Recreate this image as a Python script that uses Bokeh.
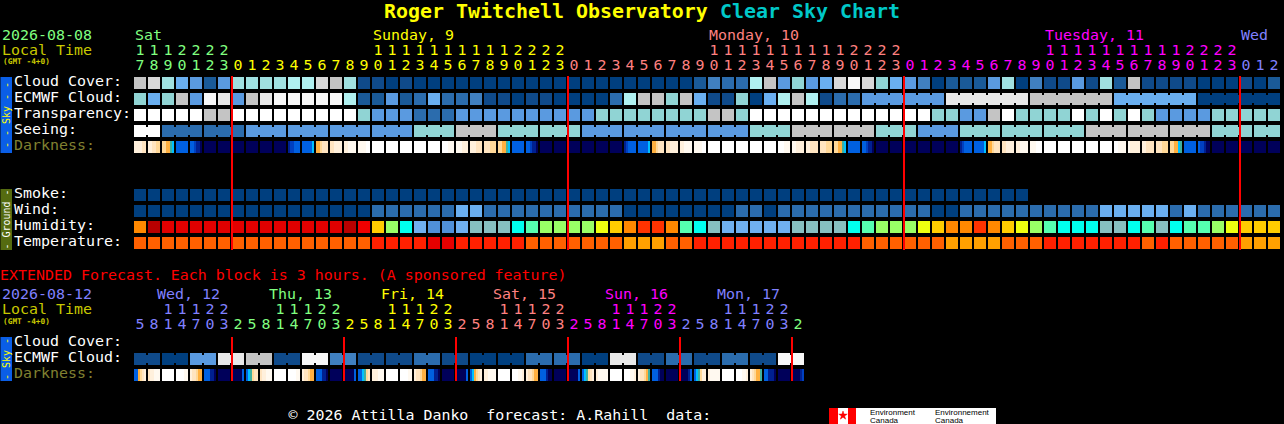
from math import pi
from bokeh.plotting import figure
from bokeh.models import Range1d, ColumnDataSource
from bokeh.core.properties import value
from bokeh.embed import file_html
from bokeh.resources import INLINE

# ---------- data ----------
hour_labels = [17,18,19,20,21,22,23,
  0,1,2,3,4,5,6,7,8,9,10,11,12,13,14,15,16,17,18,19,20,21,22,23,
  0,1,2,3,4,5,6,7,8,9,10,11,12,13,14,15,16,17,18,19,20,21,22,23,
  0,1,2,3,4,5,6,7,8,9,10,11,12,13,14,15,16,17,18,19,20,21,22,23,
  0,1,2]
day_colors = ["#80ff80","#ffff00","#ff8080","#ff00ff","#8080ff"]
day_names = ["Sat","Sunday, 9","Monday, 10","Tuesday, 11","Wed"]
day_blocks = [0,17,41,65,79]

cloud_colors = ["#003f7f","#0f4a8a","#1a5a98","#2b6cad","#4080c0","#5a9ae0","#6aaff0",
                "#90d4d4","#a0e0e0","#b0f0f0","#c4c4c4","#d8d8d8","#e8e8e8","#f8f8f8","#ffffff"]
cloud_cover = [10,11,8,6,5,2,5,8,8,8,8,9,9,11,10,8,1,1,0,1,0,
  0,0,0,0,0,0,0,0,0,0,0,0,0,0,0,0,0,0,0,
  2,4,3,3,9,10,5,7,5,6,11,13,
  11,7,6,5,4,0,2,2,2,5,8,0,4,1,1,5,1,8,2,10,1,1,1,1,0,0,0,1,0,2]
ecmwf_levels = [7,6,7,10,5,13,12,5,10,12,13,13,13,13,13,9,2,2,5,2,3,
  6,3,3,4,1,1,0,1,1,0,0,0,0,3,9,10,10,7,10,6,1,1,7,0,6,9,10,9,1,3,3,
  5,12,10,6,0]
ecmwf_spans = [1]*52 + [6]*5
transparency = [14,14,14,14,14,10,10,14,14,14,14,14,14,14,14,14,7,5,5,5,3,
  3,3,5,5,5,5,5,5,5,5,5,5,7,7,7,7,7,7,7,7,10,10,7,
  14,14,14,14,14,14,14,14,14,14,14,14,14,7,7,5,5,10,14,7,7,7,7,14,7,14,7,14,7,5,5,5,5,7,7,7,7,7]
seeing_levels = [14,3,3,5,5,5,5,7,10,7,7,5,5,5,5,7,10,10,7,5,7,7,7,10,10,10,7,7]
seeing_spans = [2]+[3]*26+[2]

dark_colors = {"w":"#ffffff","x":"#fff9f0","y":"#fff0dc","z":"#ffe4c0","p":"#ffd898","o":"#ffb040",
               "t":"#40b0a0","c":"#00c0ff","b":"#0060e0","m":"#0040c0","n":"#002090","d":"#00005a"}
darkness = ["yyyyzz","yyzzpp","ppootc","bbbbbb","bbmnnd","dddddd","dddddd","dddddd","dddddd","dddddd","dddddd",
  "nmmbbb","bbbbbc","oopzzz","zzyyyy","yyxxxx","xxxxww","wwwwww","wwwwww","wwwwww","wwwwww",
  "wwwwww","wwwxxx","xxxyyy","yyyzzz","zzzppp","ppootc","bbbbbb","bbmnnd",
  "dddddd","dddddd","dddddd","dddddd","dddddd","dddddd",
  "nmbbbb","bbbbbc","oopzzz","zzyyyy","yyxxxx","xxxxww",
  "wwwwww","wwwwww","wwwwww","wwwwww","wwwwww","wwwxxx","xxyyyy","yyzzzz","zzzppp","ppootc",
  "bbbbbb","bbmnnd","dddddd","dddddd","dddddd","dddddd","dddddd","dddddd",
  "nmbbbb","bbbbbc","oopzzz","zzyyyy","yyxxxx","xxxwww",
  "wwwwww","wwwwww","wwwwww","wwwwww","wwwwww","wwxxxx","xyyyyy","yyzzzz","zzzppp","ppooct",
  "bbbbbb","bmmndd","dddddd","dddddd","dddddd","dddddd","dddddd"]

smoke = [0]*64
wind = [0]*17 + [3,3,3,3,3,3,6,6,3,3,3,3,3,3,3,3,3,3] + [0]*8 + [3,3,0] + [3]*11 + [0,0] + [3]*10 + [6,6,6,6,6,3,6,3,3,3,3,3,3]

humidity_colors = ["#b80000","#e00000","#f00000","#ff3300","#ff8800","#ffcc00","#eeff10",
                   "#99ff66","#55ffb0","#00ffee","#86c0c0","#70b0f0","#5090d8"]
humidity = [4,0,1,1,1,1,1,1,1,1,1,1,1,1,1,0,2,5,7,9,11,
  12,12,11,10,10,10,9,8,7,7,7,7,6,5,4,3,3,4,8,9,10,11,11,11,11,11,10,10,10,10,9,
  8,7,7,7,6,5,4,4,3,4,5,6,7,8,9,9,9,10,10,9,8,10,9,8,8,7,6,5,5,5]
temp_colors = ["#e60000","#ff2000","#ff6000","#ffa000"]
temperature = [2]*17+[1]*4+[0,0]+[1]*5+[2]*7+[3]*3+[2,2]+[1]*12+[2]*6+[3]*4+[2]*3+[1]*7+[2,1]+[2]*5+[3]*3

ext_hours = [5,8,11,14,17,20,23,
  2,5,8,11,14,17,20,23, 2,5,8,11,14,17,20,23, 2,5,8,11,14,17,20,23,
  2,5,8,11,14,17,20,23, 2,5,8,11,14,17,20,23, 2]
ext_day_colors = ["#8080ff","#80ff80","#ffff00","#ff8080","#ff00ff","#8080ff","#80ff80"]
ext_day_names = ["Wed, 12","Thu, 13","Fri, 14","Sat, 15","Sun, 16","Mon, 17"]
ext_ecmwf = [1,0,5,12,10,1,13,4,1,1,3,1,0,0,3,3,0,12,1,3,1,3,1,13]
ext_darkness = ["bbopzy","zyyxxx","wwwwww","wwwwxx","yzzpoo","bbbnnd","dddddd","dddddb",
  "bctpzz","zyyxxx","wwwwww","wwwwxx","yzzpoo","bbbnnd","dddddd","dddddb",
  "bbctpz","yyyxxx","wwwwww","wwwwxx","yzzpoo","bbbnnd","dddddd","dddddb",
  "bcopzy","yyxxxx","wwwwww","wwwxxy","yzzpoo","bbbndd","dddddd","dddddb",
  "bctpzy","yxxxxx","wwwwww","wwwxxy","yzzpot","bbbndd","dddddd","ddddnb",
  "bctpyy","yxxxxx","wwwwww","wwwxxy","yzpoot","bbnnnd","dddddd","ddddnm"]

row_labels = ["Cloud Cover:","ECMWF Cloud:","Transparency:","Seeing:","Darkness:"]
ground_labels = ["Smoke:","Wind:","Humidity:","Temperature:"]
ext_labels = ["Cloud Cover:","ECMWF Cloud:","Darkness:"]

# ---------- layout ----------
W, H = 1284, 424
X0, PITCH, BW, BH = 134, 14, 12, 12
MONO = value("DejaVu Sans Mono")

p = figure(width=W, height=H, output_backend="svg", toolbar_location=None,
           x_range=Range1d(0.5, W + 0.5), y_range=Range1d(H + 0.5, 0.5), min_border=0,
           background_fill_color="#000000", border_fill_color="#000000",
           outline_line_color=None, styles={"background-color": "#000000"})
p.axis.visible = False
p.grid.visible = False

L, R, T, B, C = [], [], [], [], []
def rect(l, r, t, b, c):
    L.append(l); R.append(r); T.append(t); B.append(b); C.append(c)

def blocks(y, levels, colors):
    for i, v in enumerate(levels):
        x = X0 + i * PITCH
        rect(x, x + BW, y, y + BH, colors[v])

def spans(y, levels, lengths, colors):
    i = 0
    for v, n in zip(levels, lengths):
        for k in range(n):
            x = X0 + (i + k) * PITCH
            rect(x, x + BW, y, y + BH, colors[v])
            if k < n - 1:
                rect(x + BW, x + PITCH, y + 2, y + BH - 2, colors[v])
        i += n

def dark(y, cells):
    for i, s in enumerate(cells):
        x = X0 + i * PITCH
        w = BW / len(s)
        for k, ch in enumerate(s):
            rect(x + k * w, x + (k + 1) * w, y, y + BH, dark_colors[ch])

# side tags
rect(0, 12, 77, 153, "#0a5ee6")
rect(0, 12, 189, 250, "#556b10")
rect(0, 12, 337, 381, "#0a5ee6")

blocks(77, cloud_cover, cloud_colors)
spans(93, ecmwf_levels, ecmwf_spans, cloud_colors)
blocks(109, transparency, cloud_colors)
spans(125, seeing_levels, seeing_spans, cloud_colors)
dark(141, darkness)
blocks(189, smoke, cloud_colors)
blocks(205, wind, cloud_colors)
blocks(221, humidity, humidity_colors)
blocks(237, temperature, temp_colors)
spans(353, ext_ecmwf, [2] * len(ext_ecmwf), cloud_colors)
dark(369, ext_darkness)

# logo
rect(829, 996, 408, 424.5, "#ffffff")
rect(829, 838, 408, 424.5, "#ff0000")
rect(848, 856, 408, 424.5, "#ff0000")

p.quad(left=L, right=R, top=T, bottom=B, fill_color=C, line_color=None)
p.scatter(x=[843], y=[415.5], marker="star", size=9, fill_color="#ff0000", line_color="#ff0000", line_width=0.5)

# red midnight lines
p.segment(x0=[X0 + i * PITCH for i, h in enumerate(hour_labels) if h == 0],
          x1=[X0 + i * PITCH for i, h in enumerate(hour_labels) if h == 0],
          y0=76, y1=250, line_color="#ff0000", line_width=2)
ext_mid = [i for i, h in enumerate(ext_hours) if h == 2]
p.segment(x0=[X0 + i * PITCH for i in ext_mid], x1=[X0 + i * PITCH for i in ext_mid],
          y0=337, y1=381, line_color="#ff0000", line_width=2)

# texts
TX, TY, TS, TC = [], [], [], []
def t(x, y, s, c):
    TX.append(x); TY.append(y); TS.append(s); TC.append(c)

t(2, 34.5, "2026-08-08", "#80ff80")
t(2, 49.5, "Local Time", "#c8c800")
for name, b, c in zip(day_names, day_blocks, day_colors):
    t(X0 + b * PITCH + 1, 34.5, name, c)
day = 0
for i, h in enumerate(hour_labels):
    if h == 0 and i > 0:
        day += 1
    x = X0 + i * PITCH + 1.5
    if h >= 10:
        t(x, 49.5, str(h // 10), day_colors[day])
    t(x, 64.5, str(h % 10), day_colors[day])
for j, s in enumerate(row_labels):
    t(14, 80.5 + 16 * j, s, "#808030" if s.startswith("Dark") else "#ffffff")
for j, s in enumerate(ground_labels):
    t(14, 192.5 + 16 * j, s, "#ffffff")
t(0, 275, "EXTENDED Forecast. Each block is 3 hours. (A sponsored feature)", "#ff0000")
t(2, 293.5, "2026-08-12", "#8080ff")
t(2, 308.5, "Local Time", "#c8c800")
for j, (name, c) in enumerate(zip(ext_day_names, ext_day_colors)):
    t(157 + 112 * j, 293.5, name, c)
day = 0
for i, h in enumerate(ext_hours):
    if h == 2:
        day += 1
    x = X0 + i * PITCH + 1.5
    if h >= 10:
        t(x, 308.5, str(h // 10), ext_day_colors[day])
    t(x, 323.5, str(h % 10), ext_day_colors[day])
for j, s in enumerate(ext_labels):
    t(14, 340.5 + 16 * j, s, "#808030" if s.startswith("Dark") else "#ffffff")
t(288.5, 415, "\u00a9 2026 Attilla Danko\u00a0 forecast: A.Rahill\u00a0 data:", "#ffffff")

src = ColumnDataSource(dict(x=TX, y=TY, text=TS, color=TC))
p.text(x="x", y="y", text="text", text_color="color", source=src, text_font=MONO,
       text_font_size="14.95px", text_baseline="middle", text_align="left")

p.text(x=[384, 720], y=[11.5, 11.5], text=["Roger Twitchell Observatory", "Clear Sky Chart"],
       text_color=["#ffff00", "#00c8c8"], text_font=MONO, text_font_size="19.93px",
       text_font_style="bold", text_baseline="middle", text_align="left")
p.text(x=[3, 3], y=[61.5, 321.5], text=["(GMT -4+0)", "(GMT -4+0)"], text_color="#c8c800", text_font=MONO,
       text_font_size="7.8px", text_font_style="bold", text_baseline="middle", text_align="left")
p.text(x=[6, 6, 6], y=[115, 219.5, 359], text=["- - Sky - -", "- Ground -", "- Sky -"],
       text_color=["#ffff00", "#ffffff", "#ffff00"], angle=pi / 2, text_font=MONO, text_font_size="10px",
       text_baseline="middle", text_align="center")
p.text(x=[870, 870, 935, 935], y=[412, 420, 412, 420],
       text=["Environment", "Canada", "Environnement", "Canada"], text_color="#000000",
       text_font=value("Liberation Sans"), text_font_size="8px", text_baseline="middle", text_align="left")

open("out.html", "w").write(file_html(p, INLINE))
